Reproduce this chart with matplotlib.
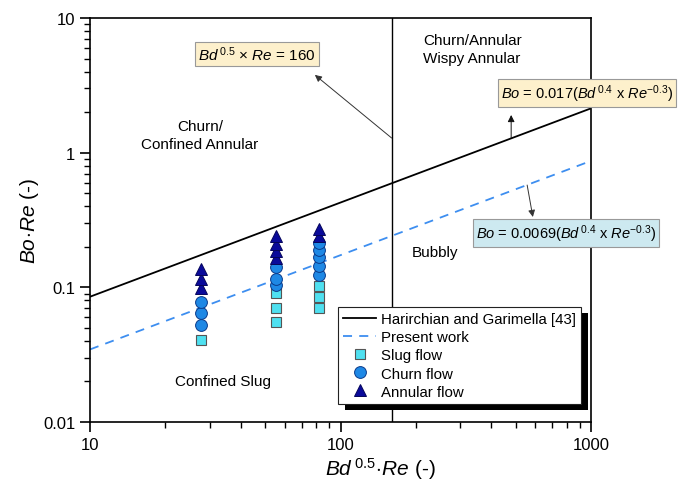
import matplotlib
matplotlib.use("Agg")
import matplotlib.pyplot as plt
from matplotlib.patches import Rectangle
from matplotlib.transforms import IdentityTransform

plt.rcParams["font.family"] = ["Liberation Sans", "DejaVu Sans"]
plt.rcParams["mathtext.fontset"] = "custom"
plt.rcParams["mathtext.rm"] = "Liberation Sans"
plt.rcParams["mathtext.it"] = "Liberation Sans:italic"

# transition lines (end points)
line_x = [10, 1000]
harirchian_y = [0.0852, 2.134]
present_y = [0.0346, 0.869]
boundary_x = 160

# experimental points, three Bd^0.5*Re columns
col_x = [27.7, 55.1, 82.2]
slug_y = [[0.0407], [0.055, 0.070, 0.091], [0.0703, 0.0844, 0.103]]
churn_y = [[0.0526, 0.0642, 0.0775], [0.104, 0.115, 0.142],
           [0.124, 0.145, 0.169, 0.190, 0.212]]
annular_y = [[0.0985, 0.115, 0.137], [0.164, 0.187, 0.210, 0.242],
             [0.242, 0.272]]


def flat(groups):
    xs, ys = [], []
    for x, g in zip(col_x, groups):
        xs += [x] * len(g)
        ys += g
    return xs, ys


fig = plt.figure(figsize=(6.99, 4.85), dpi=100)
ax = fig.add_axes([0.1288, 0.1278, 0.7167, 0.833])

ax.plot(line_x, harirchian_y, color="black", lw=1.3, label="Harirchian and Garimella [43]")
ax.plot(line_x, present_y, color="#3d8ef0", lw=1.3, ls=(0, (5, 4)), label="Present work")
ax.axvline(boundary_x, color="black", lw=1.0)

sx, sy = flat(slug_y)
cx, cy = flat(churn_y)
tx, ty = flat(annular_y)
ax.plot(sx, sy, ls="none", marker="s", ms=7, mfc="#4fe0f0", mec="#555555", mew=0.8, label="Slug flow")
ax.plot(cx, cy, ls="none", marker="o", ms=8.5, mfc="#1e88e5", mec="#0a3a8a", mew=0.7, label="Churn flow")
ax.plot(tx, ty, ls="none", marker="^", ms=9, mfc="#0a0a9a", mec="#05055a", mew=0.7, label="Annular flow")

ax.set_xscale("log")
ax.set_yscale("log")
ax.set_xlim(10, 1000)
ax.set_ylim(0.01, 10)
ax.set_xticks([10, 100, 1000])
ax.set_xticklabels(["10", "100", "1000"])
ax.set_yticks([0.01, 0.1, 1, 10])
ax.set_yticklabels(["0.01", "0.1", "1", "10"])
ax.tick_params(which="major", direction="out", length=7, width=1.2, labelsize=12)
ax.tick_params(which="minor", direction="out", length=4, width=1.0)
for s in ax.spines.values():
    s.set_linewidth(1.2)

ax.set_xlabel(r"$\mathit{Bd}^{\,0.5}\!\cdot\!\mathit{Re}$ (-)", fontsize=15)
ax.set_ylabel(r"$\mathit{Bo}\!\cdot\!\mathit{Re}$ (-)", fontsize=15)
ax.xaxis.set_label_coords(0.579, -0.082)
ax.yaxis.set_label_coords(-0.098, 0.5)

# region labels
ax.text(27.5, 1.35, "Churn/\nConfined Annular", fontsize=11, ha="center", va="center", linespacing=1.3)
ax.text(213, 5.9, "Churn/Annular\nWispy Annular", fontsize=11, ha="left", va="center", linespacing=1.3)
ax.text(193, 0.183, "Bubbly", fontsize=11, ha="left", va="center")
ax.text(34.1, 0.0203, "Confined Slug", fontsize=11, ha="center", va="center")

# boxed equations with arrows
ax.text(46.5, 5.41, r"$\mathit{Bd}^{\,0.5}$ $\times$ $\mathit{Re}$ = 160",
        fontsize=11, ha="center", va="center",
        bbox=dict(boxstyle="square,pad=0.2", fc="#fdf0cc", ec="#999999", lw=0.8))
ax.annotate("", xy=(79, 3.78), xytext=(160, 1.285),
            arrowprops=dict(arrowstyle="-|>", color="#333333", lw=0.7, mutation_scale=10,
                            shrinkA=0, shrinkB=0))

ax.text(0.992, 0.814, r"$\mathit{Bo}$ = 0.017($\mathit{Bd}^{\,0.4}$ x $\mathit{Re}^{-0.3}$)",
        transform=ax.transAxes, fontsize=10.5, ha="center", va="center", clip_on=False,
        bbox=dict(boxstyle="square,pad=0.2", fc="#fdf0cc", ec="#999999", lw=0.8))
ax.annotate("", xy=(480, 1.905), xytext=(480, 1.29),
            arrowprops=dict(arrowstyle="-|>", color="#111111", lw=0.7, mutation_scale=10,
                            shrinkA=0, shrinkB=0))

ax.text(0.950, 0.468, r"$\mathit{Bo}$ = 0.0069($\mathit{Bd}^{\,0.4}$ x $\mathit{Re}^{-0.3}$)",
        transform=ax.transAxes, fontsize=10.5, ha="center", va="center", clip_on=False,
        bbox=dict(boxstyle="square,pad=0.2", fc="#cde9f0", ec="#999999", lw=0.8))
ax.annotate("", xy=(586, 0.333), xytext=(556, 0.575),
            arrowprops=dict(arrowstyle="-|>", color="#333333", lw=0.7, mutation_scale=10,
                            shrinkA=0, shrinkB=0))

leg = ax.legend(loc="lower right", bbox_to_anchor=(0.98, 0.045), fontsize=10.8, frameon=True,
                fancybox=False, edgecolor="#222222", framealpha=1, borderpad=0.35,
                labelspacing=0.27, handlelength=2.2, handletextpad=0.3, borderaxespad=0)
leg.get_frame().set_linewidth(0.8)
leg.set_zorder(5)

# heavy drop shadow behind the legend
fig.canvas.draw()
bb = leg.get_window_extent()
shadow = Rectangle((bb.x0 + 7, bb.y0 - 6), bb.width, bb.height, transform=IdentityTransform(),
                   facecolor="black", edgecolor="none", zorder=4, clip_on=False)
ax.add_artist(shadow)

fig.savefig("out.png", dpi=100)
